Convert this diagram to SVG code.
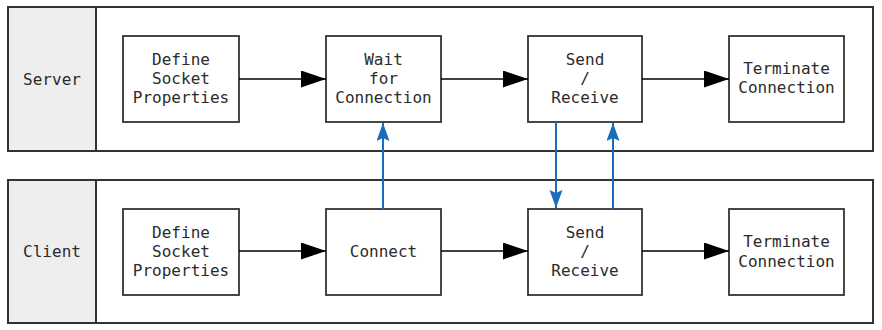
<svg xmlns="http://www.w3.org/2000/svg" width="882" height="330" viewBox="0 0 882 330">
  <style>
    .lane { fill: #ffffff; stroke: #333333; stroke-width: 2; }
    .lane-head { fill: #eeeeee; stroke: #333333; stroke-width: 2; }
    .box { fill: #ffffff; stroke: #333333; stroke-width: 1.8; }
    text { font-family: "DejaVu Sans Mono", "Liberation Mono", monospace; font-size: 16px; fill: #2b2b2b; text-anchor: middle; }
    .flow { stroke: #000000; stroke-width: 1.6; fill: none; marker-end: url(#arrow-black); }
    .msg { stroke: #1a6dbb; stroke-width: 2; fill: none; marker-end: url(#arrow-blue); }
  </style>
  <defs>
    <marker id="arrow-black" markerUnits="userSpaceOnUse" markerWidth="26" markerHeight="18" refX="25" refY="8.5" orient="auto">
      <path d="M0,0 L25,8.5 L0,17 z" fill="#000000"/>
    </marker>
    <marker id="arrow-blue" markerUnits="userSpaceOnUse" markerWidth="19" markerHeight="14" refX="18" refY="6.5" orient="auto">
      <path d="M0,0 L18,6.5 L0,13 L3,6.5 z" fill="#1a6dbb"/>
    </marker>
  </defs>

  <!-- swimlanes -->
  <g id="lane-server">
    <rect class="lane" x="8" y="7" width="865" height="144"/>
    <rect class="lane-head" x="8" y="7" width="88" height="144"/>
    <text x="52" y="85">Server</text>
  </g>
  <g id="lane-client">
    <rect class="lane" x="8" y="180" width="865" height="143"/>
    <rect class="lane-head" x="8" y="180" width="88" height="143"/>
    <text x="52" y="257">Client</text>
  </g>

  <!-- server nodes -->
  <g id="server-define">
    <rect class="box" x="123" y="36" width="116" height="86"/>
    <text x="181" y="65">Define</text>
    <text x="181" y="84">Socket</text>
    <text x="181" y="103">Properties</text>
  </g>
  <g id="server-wait">
    <rect class="box" x="326" y="36" width="115" height="86"/>
    <text x="383.5" y="65">Wait</text>
    <text x="383.5" y="84">for</text>
    <text x="383.5" y="103">Connection</text>
  </g>
  <g id="server-send">
    <rect class="box" x="528" y="36" width="114" height="86"/>
    <text x="585" y="65">Send</text>
    <text x="585" y="84">/</text>
    <text x="585" y="103">Receive</text>
  </g>
  <g id="server-terminate">
    <rect class="box" x="729" y="36" width="115" height="86"/>
    <text x="786.5" y="74">Terminate</text>
    <text x="786.5" y="93">Connection</text>
  </g>

  <!-- client nodes -->
  <g id="client-define">
    <rect class="box" x="123" y="209" width="116" height="86"/>
    <text x="181" y="238">Define</text>
    <text x="181" y="257">Socket</text>
    <text x="181" y="276">Properties</text>
  </g>
  <g id="client-connect">
    <rect class="box" x="326" y="209" width="115" height="86"/>
    <text x="383.5" y="257">Connect</text>
  </g>
  <g id="client-send">
    <rect class="box" x="528" y="209" width="114" height="86"/>
    <text x="585" y="238">Send</text>
    <text x="585" y="257">/</text>
    <text x="585" y="276">Receive</text>
  </g>
  <g id="client-terminate">
    <rect class="box" x="729" y="209" width="115" height="86"/>
    <text x="786.5" y="247">Terminate</text>
    <text x="786.5" y="267">Connection</text>
  </g>

  <!-- connectors -->
  <g id="connectors">
    <line class="flow" x1="239" y1="79" x2="326" y2="79"/>
    <line class="flow" x1="441" y1="79" x2="528" y2="79"/>
    <line class="flow" x1="642" y1="79" x2="729" y2="79"/>
    <line class="flow" x1="239" y1="251" x2="326" y2="251"/>
    <line class="flow" x1="441" y1="251" x2="528" y2="251"/>
    <line class="flow" x1="642" y1="251" x2="729" y2="251"/>
    <line class="msg" x1="383" y1="209" x2="383" y2="123"/>
    <line class="msg" x1="556" y1="122" x2="556" y2="208"/>
    <line class="msg" x1="613" y1="209" x2="613" y2="123"/>
  </g>
</svg>
